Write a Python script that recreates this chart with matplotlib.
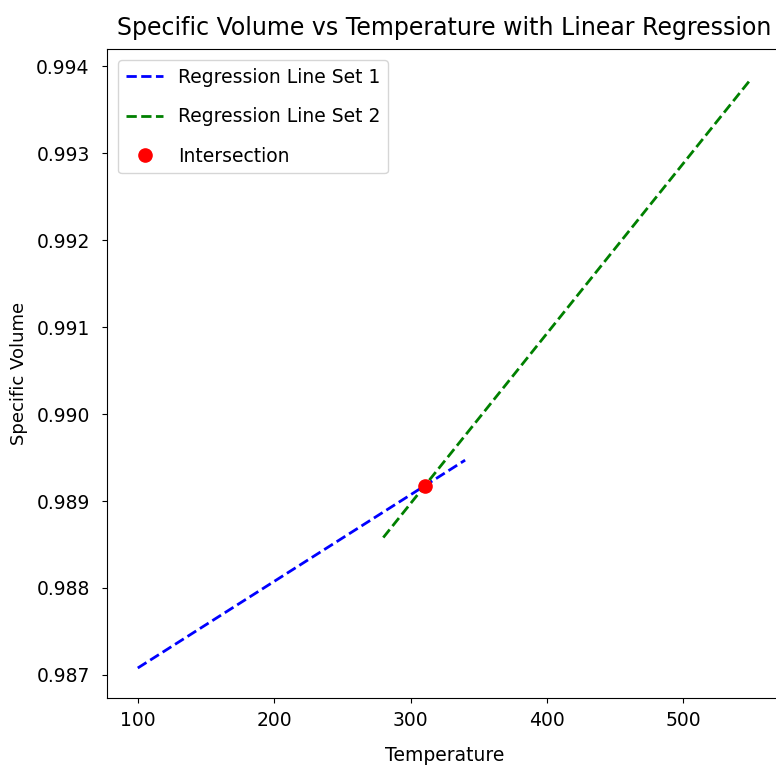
from matplotlib import pyplot as plt
import numpy as np

# regression line end points
temp_set1 = [100, 340]
vol_set1 = [0.98708, 0.98947]

temp_set2 = [280, 550]
vol_set2 = [0.98858, 0.99386]

# slopes / intercepts of the two lines
m1 = (vol_set1[1] - vol_set1[0]) / (temp_set1[1] - temp_set1[0])
b1 = vol_set1[0] - m1 * temp_set1[0]
m2 = (vol_set2[1] - vol_set2[0]) / (temp_set2[1] - temp_set2[0])
b2 = vol_set2[0] - m2 * temp_set2[0]

x_int = (b2 - b1) / (m1 - m2)
y_int = m1 * x_int + b1

x1 = np.linspace(temp_set1[0], temp_set1[1], 100)
x2 = np.linspace(temp_set2[0], temp_set2[1], 100)

fig = plt.figure(figsize=(7.76, 7.75), dpi=100)
ax = fig.add_axes([0.138, 0.1, 0.87, 0.837])

ax.plot(x1, m1 * x1 + b1, color='blue', linestyle='--', linewidth=2, label='Regression Line Set 1')
ax.plot(x2, m2 * x2 + b2, color='green', linestyle='--', linewidth=2, label='Regression Line Set 2')
ax.plot(x_int, y_int, 'ro', markersize=9.5, label='Intersection')

ax.set_title('Specific Volume vs Temperature with Linear Regression', fontsize=17, pad=10)
ax.set_xlabel('Temperature', fontsize=13.5, labelpad=12)
ax.set_ylabel('Specific Volume', fontsize=13, labelpad=6)
ax.tick_params(axis='x', labelsize=13.5, pad=6)
ax.tick_params(axis='y', labelsize=13.5, pad=9)
ax.legend(fontsize=13.5, loc='upper left', labelspacing=1.1, borderaxespad=0.6)

plt.savefig('out.png', dpi=100)
